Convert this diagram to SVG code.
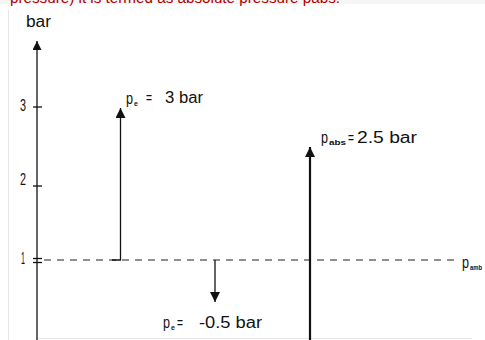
<svg xmlns="http://www.w3.org/2000/svg" width="485" height="340" viewBox="0 0 485 340">
<style>
.t{font-family:"Liberation Sans",Arial,sans-serif;font-size:16px;fill:#111}
.s{font-family:"Liberation Sans",Arial,sans-serif;font-size:7px;font-weight:bold;fill:#111}
.ax{stroke:#111;stroke-width:1.3;fill:none}
.dash{stroke:#222;stroke-width:1.2;stroke-dasharray:7 6;fill:none}
</style>
<defs>
<marker id="ah" markerUnits="userSpaceOnUse" markerWidth="10" markerHeight="10" refX="10" refY="5" orient="auto">
<path d="M0,0 L10,5 L0,10 z" fill="#111"/>
</marker>
<marker id="ahs" markerUnits="userSpaceOnUse" markerWidth="9" markerHeight="9" refX="9" refY="4.5" orient="auto">
<path d="M0,0 L9,4.5 L0,9 z" fill="#111"/>
</marker>
</defs>
<rect width="485" height="340" fill="#fff"/>
<rect x="0" y="0" width="485" height="4" fill="#f5f5f5"/>
<text x="10" y="2.5" font-family="Liberation Sans,Arial,sans-serif" font-size="14" fill="#b00000" textLength="330" lengthAdjust="spacingAndGlyphs">pressure) it is termed as absolute pressure pabs.</text>
<line x1="8.5" y1="10" x2="8.5" y2="340" stroke="#e6e6e6" stroke-width="1"/>
<line x1="38" y1="338.5" x2="472" y2="338.5" stroke="#e6e6e6" stroke-width="1"/>

<g id="connectors">
<line class="ax" x1="37" y1="340" x2="37" y2="41" marker-end="url(#ahs)"/>
<line class="ax" x1="33" y1="107" x2="42" y2="107"/>
<line class="ax" x1="33" y1="186" x2="42" y2="186"/>
<line class="ax" x1="33" y1="258.5" x2="42" y2="258.5"/>
<line class="ax" x1="33" y1="262.5" x2="42" y2="262.5"/>
<line class="dash" x1="44" y1="260" x2="460" y2="260"/>
<path class="ax" d="M112,260 H120.5 V108" marker-end="url(#ah)"/>
<line x1="310" y1="340" x2="310" y2="147" stroke="#111" stroke-width="2.2" marker-end="url(#ah)"/>
<line class="ax" x1="215" y1="260" x2="215" y2="302" marker-end="url(#ah)"/>
</g>

<g id="axis-label"><text class="t" x="26" y="27" textLength="25" lengthAdjust="spacingAndGlyphs">bar</text></g>
<g id="tick-3"><text class="t" x="20" y="111" textLength="6" lengthAdjust="spacingAndGlyphs">3</text></g>
<g id="tick-2"><text class="t" x="20" y="185" textLength="6" lengthAdjust="spacingAndGlyphs">2</text></g>
<g id="tick-1"><text class="t" x="21" y="264" textLength="4" lengthAdjust="spacingAndGlyphs">1</text></g>

<g id="label-pe-3">
<text class="t" x="126" y="104" textLength="7" lengthAdjust="spacingAndGlyphs">p</text>
<text class="s" x="134" y="106">e</text>
<text class="t" x="146" y="103" textLength="6" lengthAdjust="spacingAndGlyphs">=</text>
<text class="t" x="165" y="103" textLength="38" lengthAdjust="spacingAndGlyphs">3 bar</text>
</g>
<g id="label-pabs">
<text class="t" x="321" y="143" textLength="7" lengthAdjust="spacingAndGlyphs">p</text>
<text class="s" x="329" y="145" textLength="17" lengthAdjust="spacingAndGlyphs">abs</text>
<text class="t" x="348" y="143" textLength="6" lengthAdjust="spacingAndGlyphs">=</text>
<text class="t" x="357" y="143" textLength="60" lengthAdjust="spacingAndGlyphs">2.5 bar</text>
</g>
<g id="label-pe-neg">
<text class="t" x="163" y="328" textLength="7" lengthAdjust="spacingAndGlyphs">p</text>
<text class="s" x="171" y="330">e</text>
<text class="t" x="177" y="328" textLength="6" lengthAdjust="spacingAndGlyphs">=</text>
<text class="t" x="199" y="328" textLength="63" lengthAdjust="spacingAndGlyphs">-0.5 bar</text>
</g>
<g id="label-pamb">
<text class="t" x="462" y="268" textLength="7" lengthAdjust="spacingAndGlyphs">p</text>
<text class="s" x="470" y="270" textLength="12" lengthAdjust="spacingAndGlyphs">amb</text>
</g>
</svg>
